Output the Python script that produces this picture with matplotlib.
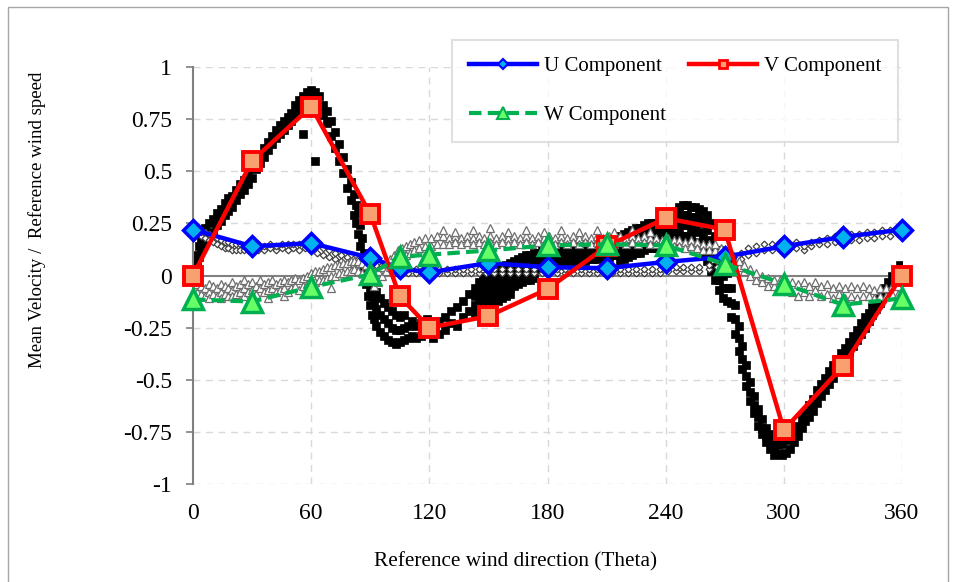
import matplotlib
matplotlib.use("Agg")
import matplotlib.pyplot as plt
from matplotlib.patches import Rectangle
from matplotlib.lines import Line2D

# ---------------- data ----------------
theta = [0, 30, 60, 90, 105, 120, 150, 180, 210, 240, 270, 300, 330, 360]
u_comp = [0.22, 0.14, 0.155, 0.085, 0.035, 0.015, 0.06, 0.04, 0.035, 0.065, 0.09, 0.14, 0.185, 0.22]
v_comp = [0.0, 0.55, 0.81, 0.295, -0.10, -0.25, -0.195, -0.065, 0.14, 0.275, 0.22, -0.74, -0.435, 0.0]
w_comp = [-0.115, -0.125, -0.055, 0.005, 0.09, 0.10, 0.12, 0.145, 0.15, 0.145, 0.055, -0.04, -0.14, -0.11]

# experimental scatter: V (black squares)
v_exp_theta = [1, 2, 3, 4, 5, 6, 8, 10, 12, 14, 16, 18, 20, 22, 24, 26, 28, 30, 32, 34, 36, 38, 40,
               42, 44, 46, 48, 50, 52, 54, 56, 58, 60, 62, 64, 66, 68, 70, 72, 74, 76, 78, 80, 82,
               83, 84, 85, 86, 87, 88, 89, 90, 91, 92, 93, 95, 97, 99, 101, 103, 105, 107, 109, 111,
               113, 116, 119, 122, 125, 128, 131, 134, 137, 140, 143, 145, 147, 149, 151, 153, 155,
               157, 159, 161, 163, 165, 167, 169, 171, 173, 175, 177, 179, 181, 183, 185, 187, 189,
               191, 193, 195, 197, 199, 201, 203, 205, 207, 209, 211, 213, 215, 217, 219, 221, 223,
               225, 227, 229, 231, 233, 235, 237, 239, 241, 243, 245, 247, 249, 251, 253, 255, 257,
               259, 261, 263, 265, 267, 269, 271, 273, 275, 277, 279, 281, 283, 285, 287, 289, 291,
               293, 295, 297, 299, 301, 303, 305, 307, 309, 311, 313, 315, 317, 319, 321, 323, 325,
               327, 329, 331, 333, 335, 337, 339, 341, 343, 345, 347, 349, 351, 353, 355, 357, 359]
v_exp_vals = [
    [0.01, 0.05], [0.06, 0.10], [0.09, 0.14], [0.12, 0.18], [0.15, 0.21], [0.17, 0.23],
    [0.19, 0.25], [0.21, 0.27], [0.24, 0.30], [0.26, 0.32], [0.29, 0.35], [0.31, 0.37],
    [0.33, 0.38], [0.36, 0.41], [0.39, 0.44], [0.41, 0.46], [0.44, 0.49], [0.47, 0.52],
    [0.51, 0.56], [0.54, 0.58], [0.57, 0.61], [0.60, 0.64], [0.63, 0.67], [0.66, 0.70],
    [0.68, 0.72], [0.70, 0.74], [0.72, 0.76], [0.74, 0.78], [0.77, 0.82], [0.79, 0.84],
    [0.82, 0.86, 0.68], [0.84, 0.88], [0.85, 0.89], [0.84, 0.88, 0.55], [0.81, 0.86],
    [0.77, 0.82], [0.73, 0.79], [0.67, 0.74], [0.61, 0.69], [0.55, 0.63], [0.49, 0.57],
    [0.42, 0.51], [0.36, 0.45], [0.29, 0.39], [0.25, 0.34], [0.20, 0.30], [0.14, 0.24],
    [0.08, 0.18], [0.02, 0.11], [-0.04, 0.04], [-0.10, -0.02], [-0.14, -0.06],
    [-0.19, -0.10, -0.03], [-0.21, -0.13], [-0.24, -0.16, -0.08], [-0.27, -0.19, -0.11],
    [-0.29, -0.21, -0.13], [-0.31, -0.23, -0.15], [-0.32, -0.25, -0.17],
    [-0.33, -0.26, -0.19, -0.12], [-0.32, -0.26, -0.20], [-0.31, -0.25, -0.19],
    [-0.30, -0.24], [-0.29, -0.22], [-0.30, -0.24], [-0.29, -0.23], [-0.27, -0.21],
    [-0.24, -0.30], [-0.22, -0.28], [-0.20, -0.26], [-0.17, -0.23], [-0.15, -0.24],
    [-0.12, -0.20], [-0.09, -0.17],
    [-0.06, -0.10, -0.14, -0.18], [-0.03, -0.07, -0.11, -0.15, -0.19],
    [-0.01, -0.05, -0.09, -0.13, -0.17], [0.0, -0.04, -0.08, -0.12, -0.16],
    [0.01, -0.03, -0.07, -0.11, -0.15], [0.02, -0.02, -0.06, -0.10, -0.13],
    [0.03, -0.01, -0.05, -0.09, -0.12], [0.04, 0.0, -0.04, -0.08, -0.11],
    [0.05, 0.01, -0.03, -0.07, -0.10], [0.06, 0.02, -0.02, -0.06, -0.09],
    [0.07, 0.03, -0.01, -0.05], [0.08, 0.04, 0.0, -0.04], [0.09, 0.05, 0.01, -0.03],
    [0.10, 0.06, 0.02, -0.02], [0.10, 0.06, 0.02, -0.02], [0.11, 0.07, 0.03, -0.01],
    [0.11, 0.07, 0.03], [0.12, 0.08, 0.04], [0.12, 0.08, 0.04], [0.13, 0.09, 0.05],
    [0.13, 0.09, 0.05], [0.13, 0.09, 0.05], [0.14, 0.10, 0.06], [0.14, 0.10, 0.06],
    [0.14, 0.10, 0.06], [0.14, 0.10, 0.06], [0.15, 0.11, 0.07], [0.15, 0.11, 0.07],
    [0.15, 0.11, 0.07], [0.16, 0.12, 0.08], [0.16, 0.12, 0.08], [0.16, 0.12, 0.08],
    [0.17, 0.13, 0.09], [0.17, 0.13, 0.09], [0.17, 0.13, 0.09], [0.18, 0.14, 0.10],
    [0.18, 0.14, 0.10], [0.19, 0.15, 0.11, 0.07], [0.20, 0.16, 0.12, 0.08],
    [0.21, 0.17, 0.13, 0.09], [0.22, 0.18, 0.14, 0.10], [0.23, 0.19, 0.15, 0.11],
    [0.23, 0.19, 0.15, 0.11], [0.24, 0.20, 0.16, 0.12], [0.25, 0.21, 0.17, 0.13],
    [0.25, 0.21, 0.17, 0.13], [0.25, 0.21, 0.17, 0.13], [0.26, 0.22, 0.18, 0.14],
    [0.26, 0.22, 0.18, 0.14], [0.27, 0.23, 0.19, 0.14],
    [0.29, 0.24, 0.19, 0.14], [0.31, 0.26, 0.21, 0.16], [0.33, 0.28, 0.23, 0.18],
    [0.34, 0.29, 0.24, 0.19], [0.34, 0.29, 0.24, 0.19], [0.33, 0.28, 0.23, 0.18],
    [0.33, 0.28, 0.22, 0.16], [0.32, 0.27, 0.21, 0.14], [0.31, 0.25, 0.18, 0.11],
    [0.29, 0.22, 0.14, 0.07], [0.25, 0.17, 0.09, 0.02], [0.19, 0.11, 0.04, -0.02],
    [0.12, 0.05, -0.02, -0.07], [0.06, 0.0, -0.06, -0.11], [0.01, -0.06, -0.12],
    [-0.06, -0.13, -0.20], [-0.14, -0.21, -0.28], [-0.24, -0.30, -0.36], [-0.34, -0.40, -0.45],
    [-0.43, -0.48, -0.53], [-0.51, -0.56, -0.60], [-0.58, -0.62, -0.66], [-0.64, -0.68, -0.72],
    [-0.69, -0.73, -0.76], [-0.73, -0.77, -0.80], [-0.76, -0.80, -0.83], [-0.79, -0.83, -0.86],
    [-0.81, -0.85], [-0.81, -0.86], [-0.79, -0.85], [-0.77, -0.83], [-0.75, -0.80],
    [-0.72, -0.77], [-0.69, -0.73], [-0.66, -0.70], [-0.62, -0.68], [-0.59, -0.65],
    [-0.55, -0.61], [-0.52, -0.58], [-0.49, -0.55], [-0.46, -0.52], [-0.43, -0.49],
    [-0.40, -0.46], [-0.37, -0.43], [-0.35, -0.40], [-0.32, -0.37], [-0.29, -0.34],
    [-0.26, -0.31], [-0.23, -0.28], [-0.20, -0.25], [-0.18, -0.22], [-0.15, -0.19],
    [-0.12, -0.16], [-0.09, -0.13], [-0.06, -0.10], [-0.03, -0.07], [0.0, -0.04],
    [0.02, -0.02], [0.05, 0.0]]

# experimental scatter: U (small open diamonds)
u_exp_theta = [2, 4, 6, 8, 10, 12, 14, 16, 18, 20, 22, 24, 26, 28, 30, 33, 36, 39, 42, 45, 48, 51,
               54, 57, 60, 63, 66, 69, 72, 75, 78, 81, 84, 87, 90, 93, 96, 99, 102, 105, 109, 113,
               117, 121, 125, 129, 133, 137, 141, 145, 149, 153, 157, 161, 165, 169, 173, 177, 181,
               185, 189, 193, 197, 201, 205, 209, 213, 217, 221, 225, 229, 233, 237, 241, 245, 249,
               253, 257, 262, 266, 270, 274, 278, 282, 286, 290, 294, 298, 302, 306, 310, 314, 318,
               322, 326, 330, 334, 338, 342, 346, 350, 354, 358]
u_exp_vals = [
    [0.20, 0.22], [0.19, 0.21], [0.18, 0.21], [0.17, 0.20], [0.16, 0.19], [0.15, 0.18],
    [0.14, 0.17], [0.13, 0.16], [0.13, 0.16], [0.12, 0.15], [0.12, 0.15], [0.12, 0.15],
    [0.12, 0.14], [0.12, 0.14], [0.12, 0.14], [0.12, 0.15], [0.12, 0.14], [0.13, 0.15],
    [0.12, 0.14], [0.13, 0.15], [0.12, 0.15], [0.13, 0.15], [0.12, 0.15], [0.13, 0.15],
    [0.12, 0.15], [0.11, 0.14], [0.10, 0.13], [0.09, 0.12], [0.08, 0.11], [0.07, 0.10],
    [0.06, 0.09], [0.05, 0.08], [0.05, 0.08], [0.04, 0.07], [0.03, 0.06], [0.03, 0.05],
    [0.02, 0.05], [0.02, 0.04], [0.01, 0.04], [0.01, 0.03], [0.01, 0.03], [0.01, 0.03],
    [0.01, 0.03], [0.01, 0.03], [0.01, 0.03], [0.01, 0.03], [0.01, 0.03], [0.01, 0.03],
    [0.01, 0.03], [0.01, 0.03], [0.01, 0.03], [0.01, 0.03], [0.01, 0.03], [0.01, 0.03],
    [0.01, 0.03], [0.01, 0.03], [0.01, 0.03], [0.01, 0.03], [0.01, 0.03], [0.01, 0.03],
    [0.01, 0.03], [0.01, 0.03], [0.01, 0.03], [0.01, 0.03], [0.01, 0.03], [0.01, 0.03],
    [0.01, 0.03], [0.01, 0.03], [0.01, 0.03], [0.01, 0.03], [0.01, 0.03], [0.01, 0.03],
    [0.01, 0.03], [0.02, 0.04], [0.02, 0.04], [0.02, 0.04], [0.02, 0.04], [0.02, 0.04],
    [0.03, 0.05], [0.04, 0.07], [0.05, 0.08], [0.07, 0.10], [0.08, 0.11], [0.10, 0.13],
    [0.11, 0.14], [0.12, 0.15], [0.12, 0.15], [0.13, 0.16], [0.12, 0.15], [0.13, 0.16],
    [0.12, 0.14], [0.14, 0.16], [0.15, 0.17], [0.15, 0.18], [0.16, 0.19], [0.16, 0.19],
    [0.17, 0.20], [0.17, 0.20], [0.18, 0.21], [0.18, 0.21], [0.19, 0.22], [0.19, 0.22],
    [0.20, 0.22]]

# experimental scatter: W (small open triangles)
w_exp_theta = [2, 4, 6, 8, 10, 12, 14, 16, 18, 20, 22, 24, 26, 28, 30, 32, 34, 36, 38, 40, 42, 44,
               46, 48, 50, 52, 54, 56, 58, 60, 62, 64, 66, 68, 70, 72, 74, 76, 78, 80, 82, 84, 86,
               88, 90, 92, 94, 96, 98, 100, 102, 104, 106, 108, 110, 112, 115, 118, 121, 124, 127,
               130, 133, 136, 139, 142, 145, 148, 151, 154, 157, 160, 163, 166, 169, 172, 175, 178,
               181, 184, 187, 190, 193, 196, 199, 202, 205, 208, 211, 214, 217, 220, 223, 226, 229,
               232, 235, 238, 241, 244, 247, 250, 253, 256, 259, 262, 265, 268, 271, 274, 277, 280,
               283, 286, 289, 292, 295, 298, 301, 304, 307, 310, 313, 316, 319, 322, 325, 328, 331,
               334, 337, 340, 343, 346, 349, 352, 355, 358]
w_exp_vals = [
    [-0.04, -0.08], [-0.05, -0.09], [-0.06, -0.10], [-0.04, -0.08, -0.11], [-0.05, -0.09],
    [-0.06, -0.10], [-0.04, -0.08, -0.11], [-0.05, -0.09], [-0.06, -0.10],
    [-0.03, -0.07, -0.10], [-0.05, -0.09], [-0.04, -0.08], [-0.02, -0.06, -0.10],
    [-0.04, -0.08], [-0.03, -0.07], [-0.05, -0.09], [-0.02, -0.06], [-0.04, -0.08],
    [-0.03, -0.07, -0.11], [-0.02, -0.06], [-0.04, -0.08], [-0.03, -0.07],
    [-0.02, -0.06, -0.10], [-0.03, -0.08], [-0.02, -0.06], [-0.01, -0.05], [-0.02, -0.07],
    [-0.01, -0.05], [0.0, -0.04], [0.01, -0.04], [0.02, -0.03], [0.02, -0.02],
    [0.03, -0.02], [0.04, -0.01], [0.04, 0.0, -0.06], [0.05, 0.0], [0.05, 0.01],
    [0.06, 0.01], [0.06, 0.02], [0.07, 0.02], [0.07, 0.03], [0.07, 0.02], [0.06, 0.01],
    [0.05, 0.0], [0.04, -0.01], [0.02, -0.02, -0.05], [0.02, -0.03], [0.04, 0.0],
    [0.06, 0.02], [0.08, 0.04], [0.10, 0.06], [0.12, 0.08], [0.13, 0.09], [0.14, 0.10],
    [0.15, 0.11], [0.16, 0.12], [0.17, 0.13], [0.18, 0.14], [0.18, 0.14], [0.19, 0.15],
    [0.19, 0.15, 0.22], [0.18, 0.15], [0.19, 0.16, 0.21], [0.18, 0.15], [0.19, 0.16],
    [0.18, 0.15, 0.22], [0.19, 0.16], [0.18, 0.15], [0.19, 0.16, 0.23], [0.18, 0.15],
    [0.19, 0.16], [0.18, 0.15, 0.21], [0.19, 0.16], [0.18, 0.15], [0.19, 0.16, 0.22],
    [0.18, 0.15], [0.19, 0.16], [0.18, 0.15, 0.21], [0.19, 0.16], [0.18, 0.15],
    [0.19, 0.16, 0.22], [0.18, 0.15], [0.19, 0.16], [0.18, 0.15, 0.21], [0.19, 0.16],
    [0.18, 0.15], [0.19, 0.16, 0.22], [0.18, 0.15], [0.19, 0.16], [0.18, 0.15, 0.21],
    [0.19, 0.16], [0.18, 0.15], [0.19, 0.16, 0.22], [0.18, 0.15], [0.19, 0.16],
    [0.18, 0.15, 0.21], [0.18, 0.15], [0.17, 0.14], [0.18, 0.15], [0.17, 0.14],
    [0.17, 0.14], [0.16, 0.13], [0.17, 0.14], [0.16, 0.13], [0.15, 0.12], [0.15, 0.12],
    [0.12, 0.15], [0.10, 0.13], [0.08, 0.11], [0.06, 0.09], [0.04, 0.07], [0.02, 0.05],
    [0.0, 0.03], [-0.02, 0.01], [-0.03, 0.0], [-0.05, -0.01], [-0.05, -0.02],
    [-0.06, -0.02], [-0.07, -0.03], [-0.08, -0.03], [-0.10, -0.04], [-0.08, -0.03],
    [-0.10, -0.05], [-0.07, -0.03], [-0.10, -0.05], [-0.09, -0.04], [-0.11, -0.06],
    [-0.09, -0.05], [-0.11, -0.06], [-0.10, -0.05], [-0.11, -0.06], [-0.10, -0.05],
    [-0.10, -0.06], [-0.11, -0.07], [-0.10, -0.06], [-0.10, -0.06], [-0.09, -0.05],
    [-0.09, -0.05], [-0.08, -0.04]]

x_ticks = [0, 60, 120, 180, 240, 300, 360]
y_ticks = [-1, -0.75, -0.5, -0.25, 0, 0.25, 0.5, 0.75, 1]
y_tick_labels = ["-1", "-0.75", "-0.5", "-0.25", "0", "0.25", "0.5", "0.75", "1"]
series_labels = ['U Component', 'V Component', 'W Component']


def flatten(ths, vals):
    xs, ys = [], []
    for t, vs in zip(ths, vals):
        for v in vs:
            xs.append(t)
            ys.append(v)
    return xs, ys


# ---------------- figure ----------------
plt.rcParams['font.family'] = ['Liberation Serif', 'DejaVu Serif']
W, H = 956, 582
fig = plt.figure(figsize=(W / 100, H / 100), dpi=100)
fig.patch.set_facecolor('white')

# outer frame
fig.patches.append(Rectangle((8 / W, -0.05), 940 / W, 1.05 - 7 / H, transform=fig.transFigure,
                             fill=False, edgecolor='#a6a6a6', linewidth=1.0))

ax = fig.add_axes([193 / W, 1 - 484 / H, (902 - 193) / W, (484 - 67) / H])
ax.set_xlim(0, 360)
ax.set_ylim(-1, 1)

grid_col = '#d9d9d9'
for xt in x_ticks[1:]:
    ax.axvline(xt, color=grid_col, lw=1.0, ls=(0, (5, 4)), zorder=0)
for yt in y_ticks:
    if yt != 0:
        ax.axhline(yt, color=grid_col, lw=1.0, ls=(0, (5, 4)), zorder=0)
ax.axhline(0, color='#808080', lw=1.5, zorder=1)

for s in ['top', 'right', 'bottom']:
    ax.spines[s].set_visible(False)
ax.spines['left'].set_color('#808080')
ax.spines['left'].set_linewidth(1.5)

ax.set_xticks(x_ticks)
ax.set_xticklabels([str(t) for t in x_ticks])
ax.set_yticks(y_ticks)
ax.set_yticklabels(y_tick_labels)
ax.tick_params(axis='x', length=0, pad=14, labelsize=17)
ax.tick_params(axis='y', length=5, width=1.2, color='#808080', pad=10, labelsize=17, direction='out')

# experimental scatter
vx, vy = flatten(v_exp_theta, v_exp_vals)
ax.plot(vx, vy, ls='none', marker='s', ms=5.4, mfc='black', mec='black', mew=0.5, zorder=2)
ux, uy = flatten(u_exp_theta, u_exp_vals)
ax.plot(ux, uy, ls='none', marker='D', ms=3.4, mfc='white', mec='#404040', mew=0.9, zorder=3)
wx, wy = flatten(w_exp_theta, w_exp_vals)
ax.plot(wx, wy, ls='none', marker='^', ms=6.0, mfc='white', mec='#6e6e6e', mew=0.9, zorder=3)

# main series
ax.plot(theta, u_comp, color='#0000ff', lw=3.2, marker='D', ms=10, mfc='#00b0f0', mec='#0000ff',
        mew=2.5, zorder=5, clip_on=False)
ax.plot(theta, v_comp, color='#ff0000', lw=3.2, marker='s', ms=13, mfc='#f9a070', mec='#ff0000',
        mew=2.8, zorder=6, clip_on=False)
ax.plot(theta, w_comp, color='#00b050', lw=3.0, ls=(0, (3, 1.5)), marker='^', ms=15,
        mfc='#66ff66', mec='#00b050', mew=2.5, zorder=7, clip_on=False)

# legend (column-major fill: order U, W, V gives rows U|V and W)
h_u = Line2D([], [], color='#0000ff', lw=3.2, marker='D', ms=5, mfc='#00b0f0', mec='#0000ff', mew=1.5)
h_v = Line2D([], [], color='#ff0000', lw=3.2, marker='s', ms=6, mfc='#f9a070', mec='#ff0000', mew=2)
h_w = Line2D([], [], color='#00b050', lw=3.0, ls=(0, (3, 1.5)), marker='^', ms=8, mfc='#66ff66',
             mec='#00b050', mew=1.5)
leg = fig.legend([h_u, h_w, h_v], [series_labels[0], series_labels[2], series_labels[1]],
                 ncol=2, loc='upper left', bbox_to_anchor=(452 / W, 1 - 40 / H),
                 borderaxespad=0, frameon=True, fancybox=False, fontsize=15, handlelength=3.3,
                 columnspacing=1.1, labelspacing=1.4, handletextpad=0.3, borderpad=0.8)
leg.get_frame().set_edgecolor('#d9d9d9')
leg.get_frame().set_linewidth(1.5)

fig.text(37 / W, 1 - 220 / H, 'Mean Velocity /  Reference wind speed', rotation=90,
         ha='center', va='center', fontsize=13.6)
fig.text(516 / W, 1 - 562 / H, 'Reference wind direction (Theta)', ha='center', va='center',
         fontsize=15.3)

fig.savefig('out.png', dpi=100)
